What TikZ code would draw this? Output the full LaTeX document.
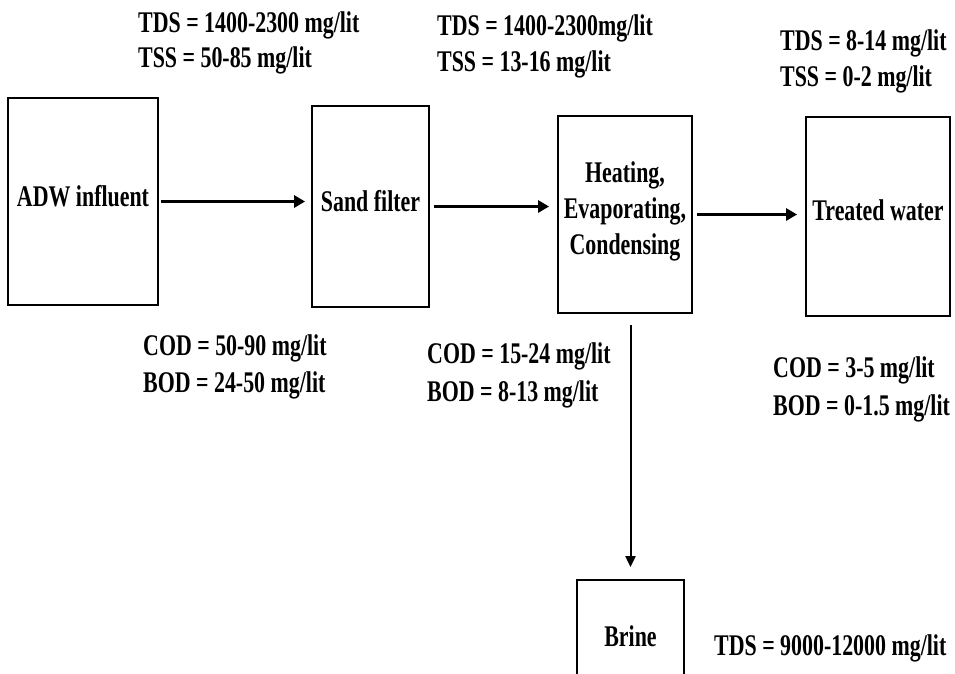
\documentclass[tikz,border=0pt]{standalone}
\usepackage{fontspec}
\setmainfont{Liberation Serif}[FakeStretch=0.73]
\usetikzlibrary{arrows.meta,positioning}

\begin{document}
\begin{tikzpicture}[
  x=1pt, y=-1pt,
  every node/.style={font=\fontsize{30}{36}\selectfont\bfseries},
  unit/.style={rectangle, draw, line width=1.8pt, align=center, inner sep=2pt,
               text depth=12pt},
  param/.style={anchor=base west, inner sep=0pt},
  flow/.style={-{Triangle[length=11pt,width=12pt]}, line width=3.2pt},
  drain/.style={-{Triangle[length=11pt,width=10pt]}, line width=2pt},
]

\useasboundingbox[fill=white] (0,0) rectangle (955,673);
\clip (0,0) rectangle (955,673);

\node[unit, minimum width=150pt, minimum height=207pt] (ADW) at (83,201.5)
  {ADW influent};
\node[unit, minimum width=117pt, minimum height=201pt] (Sand) at (370.5,206.5)
  {Sand filter};
\node[unit, minimum width=134pt, minimum height=197pt] (Heat) at (625,214.5)
  {Heating,\\Evaporating,\\Condensing};
\node[unit, minimum width=144pt, minimum height=199pt] (Treated) at (878,216.5)
  {Treated water};
\node[unit, minimum width=107pt, minimum height=124pt] (Brine) at (630.5,642)
  {Brine};

\node[param] (tdsIn)  at (138,32)  {TDS = 1400-2300 mg/lit};
\node[param] (tssIn)  at (138,67)  {TSS = 50-85 mg/lit};
\node[param] (codIn)  at (143,355) {COD = 50-90 mg/lit};
\node[param] (bodIn)  at (143,392) {BOD = 24-50 mg/lit};

\node[param] (tdsSand) at (437,35)  {TDS = 1400-2300mg/lit};
\node[param] (tssSand) at (437,71)  {TSS = 13-16 mg/lit};
\node[param] (codSand) at (427,363) {COD = 15-24 mg/lit};
\node[param] (bodSand) at (427,401) {BOD = 8-13 mg/lit};

\node[param] (tdsOut) at (780,50)  {TDS = 8-14 mg/lit};
\node[param] (tssOut) at (780,86)  {TSS = 0-2 mg/lit};
\node[param] (codOut) at (773,377) {COD = 3-5 mg/lit};
\node[param] (bodOut) at (773,415) {BOD = 0-1.5 mg/lit};

\node[param] (tdsBrine) at (714,655) {TDS = 9000-12000 mg/lit};

\draw[flow, shorten <=2pt, shorten >=6pt] (ADW.east) -- (ADW.east -| Sand.west);
\draw[flow, shorten <=4pt, shorten >=8pt] (Sand.east) -- (Sand.east -| Heat.west);
\draw[flow, shorten <=4pt, shorten >=8pt] (Heat.east) -- (Heat.east -| Treated.west);
\draw[drain, shorten <=11pt, shorten >=12pt] (Brine.north |- Heat.south) -- (Brine.north);

\end{tikzpicture}
\end{document}
